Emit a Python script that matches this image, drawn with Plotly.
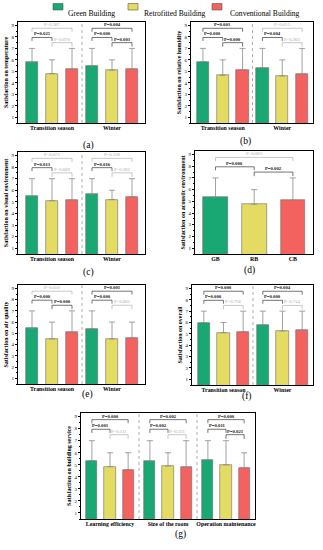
import plotly.graph_objects as go

# ---------------- data ----------------
buildings = ["Green Building", "Retrofitted Building", "Conventional Building"]
colors = ["#19a873", "#e4db63", "#f3625f"]

season_groups = ["Transition season", "Winter"]

a_means = [[5.8, 4.8, 5.2], [5.5, 5.1, 5.2]]
a_tops = [[7, 6, 7], [7, 6, 7]]
a_p = [["P=0.025", "P=0.670", "P=0.387"], ["P=0.000", "P=0.003", "P=0.004"]]
a_sig = [[1, 0, 0], [1, 1, 1]]

b_means = [[5.85, 4.65, 5.15], [5.3, 4.6, 4.75]]
b_tops = [[7, 6, 7], [7, 6, 7]]
b_p = [["P=0.000", "P=0.000", "P=0.003"], ["P=0.004", "P=0.263", "P=0.653"]]
b_sig = [[1, 1, 1], [1, 0, 0]]

c_means = [[5.5, 5.1, 5.15], [5.65, 5.2, 5.45]]
c_tops = [[7, 7, 7], [7, 6, 7]]
c_p = [["P=0.013", "P=0.669", "P=0.072"], ["P=0.016", "P=0.283", "P=0.138"]]
c_sig = [[1, 0, 0], [1, 0, 0]]

d_groups = ["GB", "RB", "CB"]
d_means = [5.35, 4.75, 5.1]
d_tops = [7, 6, 7]
d_p = ["P=0.000", "P=0.002", "P=0.083"]
d_sig = [1, 1, 0]

e_means = [[5.45, 4.5, 5.1], [5.4, 4.5, 4.6]]
e_tops = [[7, 6, 7], [7, 6, 6]]
e_p = [["P=0.000", "P=0.000", "P=0.050"], ["P=0.000", "P=0.605", "P=0.001"]]
e_sig = [[1, 1, 0], [1, 0, 1]]

f_means = [[6.0, 5.1, 5.2], [5.8, 5.25, 5.3]]
f_tops = [[7, 6, 7], [7, 7, 7]]
f_p = [["P=0.000", "P=0.756", "P=0.000"], ["P=0.000", "P=0.714", "P=0.004"]]
f_sig = [[1, 0, 1], [1, 0, 1]]

g_groups = ["Learning efficiency", "Size of the room", "Operation maintenance"]
g_means = [[5.35, 4.85, 4.6], [5.3, 4.9, 4.8], [5.4, 5.0, 4.75]]
g_tops = [[7, 6, 6], [7, 6, 7], [7, 7, 6]]
g_p = [["P=0.001", "P=0.111", "P=0.000"], ["P=0.002", "P=0.331", "P=0.002"], ["P=0.011", "P=0.021", "P=0.000"]]
g_sig = [[1, 0, 1], [1, 0, 1], [1, 1, 1]]

y_ticks = [1, 2, 3, 4, 5, 6, 7, 8, 9]

# ---------------- layout helpers ----------------
W, H = 323, 550
FONT = "Liberation Serif"


def fx(x):
    return x / W


def fy(y):
    return 1 - y / H


panels = [
    dict(groups=season_groups, means=a_means, tops=a_tops, p=a_p, sig=a_sig,
         title="Satisfaction on temperature", label="(a)", box=(18, 22, 145, 123),
         xr=(-0.7, 5.65), step=3, bw=0.62, lab=(81, 138)),
    dict(groups=season_groups, means=b_means, tops=b_tops, p=b_p, sig=b_sig,
         title="Satisfaction on relative humidity", label="(b)", box=(191, 22, 313, 123),
         xr=(-0.6, 5.55), step=3, bw=0.62, lab=(253, 134)),
    dict(groups=season_groups, means=c_means, tops=c_tops, p=c_p, sig=c_sig,
         title="Satisfaction on visual environment", label="(c)", box=(18, 152, 145, 254),
         xr=(-0.7, 5.65), step=3, bw=0.62, lab=(81, 272)),
    dict(groups=d_groups, means=[[m] for m in d_means], tops=[[t] for t in d_tops], p=d_p, sig=d_sig,
         title="Satisfaction on acoustic environment", label="(d)", box=(195, 151, 313, 254),
         xr=(-0.53, 2.52), step=1, bw=0.64, lab=(257, 270), single=True),
    dict(groups=season_groups, means=e_means, tops=e_tops, p=e_p, sig=e_sig,
         title="Satisfaction on air quality", label="(e)", box=(18, 285, 145, 384),
         xr=(-0.7, 5.65), step=3, bw=0.62, lab=(80, 402)),
    dict(groups=season_groups, means=f_means, tops=f_tops, p=f_p, sig=f_sig,
         title="Satisfaction on overall", label="(f)", box=(192, 285, 313, 385),
         xr=(-0.6, 5.55), step=3, bw=0.62, lab=(254, 404)),
    dict(groups=g_groups, means=g_means, tops=g_tops, p=g_p, sig=g_sig,
         title="Satisfaction on building service", label="(g)", box=(81, 413, 255, 519),
         xr=(-0.6, 9.0), step=3.2, bw=0.62, lab=(180, 542)),
]

fig = go.Figure()
shapes = []
annotations = []
layout_axes = {}

LEVELS = {(0, 1): (7.95, 7.65), (1, 2): (7.5, 7.15), (0, 2): (8.75, 8.45)}

for i, P in enumerate(panels, start=1):
    xa = "x" if i == 1 else f"x{i}"
    ya = "y" if i == 1 else f"y{i}"
    xkey = "xaxis" if i == 1 else f"xaxis{i}"
    ykey = "yaxis" if i == 1 else f"yaxis{i}"
    x0, y0, x1, y1 = P["box"]
    single = P.get("single", False)

    if single:
        for b in range(3):
            m = P["means"][b][0]
            t = P["tops"][b][0]
            fig.add_trace(go.Bar(
                x=[b], y=[m], width=P["bw"], xaxis=xa, yaxis=ya,
                marker=dict(color=colors[b], line=dict(color="#6b6b6b", width=0.6)),
                error_y=dict(type="data", array=[t - m], arrayminus=[0], symmetric=False,
                             color="#8a8a8a", thickness=0.8, width=3),
                showlegend=False, name=buildings[b]))
        tickvals = [0, 1, 2]
        group_list = [(0, P["p"], P["sig"])]
    else:
        ng = len(P["groups"])
        for b in range(3):
            xs = [g * P["step"] + b for g in range(ng)]
            ys = [P["means"][g][b] for g in range(ng)]
            errs = [P["tops"][g][b] - P["means"][g][b] for g in range(ng)]
            fig.add_trace(go.Bar(
                x=xs, y=ys, width=P["bw"], xaxis=xa, yaxis=ya,
                marker=dict(color=colors[b], line=dict(color="#6b6b6b", width=0.6)),
                error_y=dict(type="data", array=errs, arrayminus=[0] * ng, symmetric=False,
                             color="#8a8a8a", thickness=0.8, width=3),
                showlegend=False, name=buildings[b]))
        tickvals = [g * P["step"] + 1 for g in range(ng)]
        group_list = [(g * P["step"], P["p"][g], P["sig"][g]) for g in range(ng)]
        for g in range(ng - 1):
            xs_sep = g * P["step"] + 2 + (P["step"] - 2) / 2
            shapes.append(dict(type="line", xref=xa, yref=f"{ya} domain", x0=xs_sep, x1=xs_sep,
                               y0=0, y1=1, line=dict(color="#9a9a9a", width=0.8, dash="dot")))

    for base, pv, sg in group_list:
        for k, pair in enumerate([(0, 1), (1, 2), (0, 2)]):
            lvl, low = LEVELS[pair]
            xa0 = base + pair[0]
            xa1 = base + pair[1]
            col = "#3a3a3a" if sg[k] else "#b0b0b0"
            tcol = "#111111" if sg[k] else "#a8a8a8"
            shapes.append(dict(type="path", xref=xa, yref=ya,
                               path=f"M {xa0},{low} L {xa0},{lvl} L {xa1},{lvl} L {xa1},{low}",
                               line=dict(color=col, width=0.7)))
            txt = f"<b>{pv[k]}</b>" if sg[k] else pv[k]
            annotations.append(dict(x=(xa0 + xa1) / 2, y=lvl, xref=xa, yref=ya, text=txt,
                                    showarrow=False, yanchor="bottom", yshift=-1,
                                    font=dict(family=FONT, size=4.7, color=tcol)))

    layout_axes[xkey] = dict(
        domain=[fx(x0), fx(x1)], range=list(P["xr"]), anchor=ya,
        tickmode="array", tickvals=tickvals, ticktext=[f"<b>{g}</b>" for g in P["groups"]],
        tickfont=dict(family=FONT, size=5.9, color="black"),
        showline=True, mirror=True, linecolor="black", linewidth=0.8,
        ticks="", ticklabelstandoff=-1,
        showgrid=False, zeroline=False, fixedrange=True)
    layout_axes[ykey] = dict(
        domain=[fy(y1), fy(y0)], range=[0.5, 9.3], anchor=xa,
        tickmode="array", tickvals=y_ticks, ticktext=[str(v) for v in y_ticks],
        tickfont=dict(family=FONT, size=5, color="black"),
        showline=True, mirror=True, linecolor="black", linewidth=0.8,
        ticks="outside", ticklen=2, tickwidth=0.6, tickcolor="black",
        minor=dict(ticks="outside", ticklen=1, tickcolor="black", dtick=0.5),
        title=dict(text=f"<b>{P['title']}</b>", font=dict(family=FONT, size=6, color="black"),
                   standoff=2),
        showgrid=False, zeroline=False, fixedrange=True)

    annotations.append(dict(x=fx(P["lab"][0]), y=fy(P["lab"][1]), xref="paper", yref="paper",
                            text=P["label"], showarrow=False,
                            font=dict(family=FONT, size=9.5, color="black")))

# ---------------- legend (manual) ----------------
legend_boxes = [(53, 63), (128, 138), (212, 222)]
legend_text_x = [66, 142, 228]
for b in range(3):
    bx0, bx1 = legend_boxes[b]
    shapes.append(dict(type="rect", xref="paper", yref="paper",
                       x0=fx(bx0), x1=fx(bx1), y0=fy(10), y1=fy(3.5),
                       fillcolor=colors[b], line=dict(color="#555555", width=0.6)))
    annotations.append(dict(x=fx(legend_text_x[b]), y=fy(6.8), xref="paper", yref="paper",
                            text=buildings[b], showarrow=False, xanchor="left",
                            font=dict(family=FONT, size=7.6, color="black")))

fig.update_layout(
    width=W, height=H, margin=dict(l=0, r=0, t=0, b=0),
    paper_bgcolor="white", plot_bgcolor="white",
    showlegend=False, bargap=0,
    shapes=shapes, annotations=annotations,
    font=dict(family=FONT),
    **layout_axes)

fig.write_html("out.html",
               config={"displayModeBar": False},
               post_script="document.body.style.margin='0';document.body.style.overflow='hidden';")
